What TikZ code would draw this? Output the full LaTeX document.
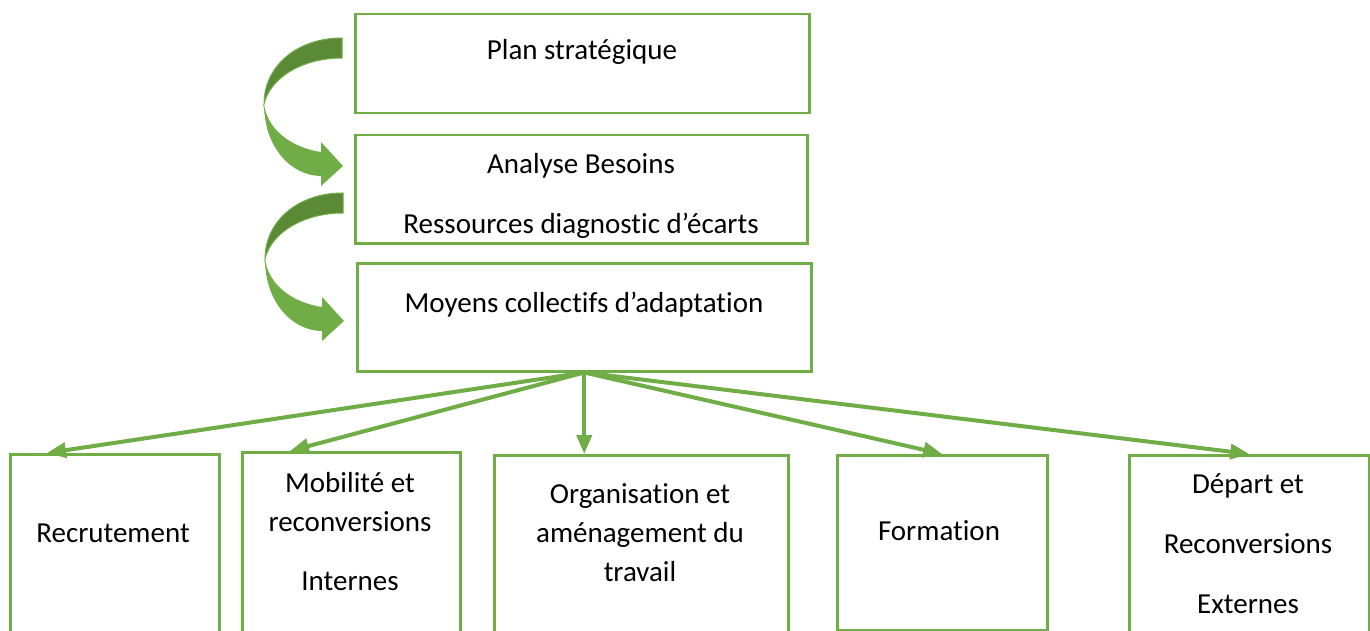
\documentclass[tikz,border=0pt]{standalone}
\usepackage{fontspec}
\setmainfont{Carlito}[Ligatures=NoCommon,Contextuals=NoAlternate]
\usetikzlibrary{arrows.meta}
\definecolor{leaf}{HTML}{70AD47}
\definecolor{leafdark}{HTML}{5A8A36}
\tikzset{
  box/.style={draw=leaf,line width=2.5pt,fill=white,anchor=north west,inner sep=0pt},
  lbl/.style={font=\fontsize{29}{39}\selectfont,inner sep=0pt,align=center},
  link/.style={draw=leaf,line width=4pt,-{Triangle[length=19pt,width=15pt]}},
}
\def\CurlArrow#1{
  \begin{scope}[shift={#1}]
  \filldraw[fill=leafdark,draw=leaf,line width=1pt] (0,0) .. controls (-45,0) and (-78,28) .. (-78,66)
     .. controls (-72,40) and (-40,20) .. (0,20) -- cycle;
  \fill[leaf] (-78,66) .. controls (-78,110) and (-50,138) .. (-21,138) -- (-21,148) -- (1,128)
     -- (-21,104) -- (-21,114) .. controls (-48,110) and (-74,94) .. (-78,66) -- cycle;
  \end{scope}
}

\begin{document}
\begin{tikzpicture}[x=1pt,y=-1pt]
    \useasboundingbox (0,0) rectangle (1370,631);
    \clip (0,0) rectangle (1370,631);
    \node[box,minimum width=454pt,minimum height=99pt] (plan) at (354,13) {};
    \node[box,minimum width=452pt,minimum height=108pt] (besoins) at (354,134) {};
    \node[box,minimum width=454pt,minimum height=108pt] (moyens) at (356,262) {};
    \node[box,minimum width=209pt,minimum height=190pt] (recrut) at (9,453) {};
    \node[box,minimum width=218pt,minimum height=190pt] (mobil) at (241,451) {};
    \node[box,minimum width=294pt,minimum height=190pt] (organis) at (493,454) {};
    \node[box,minimum width=210pt,minimum height=175pt] (format) at (836,454) {};
    \node[box,minimum width=240pt,minimum height=190pt] (depart) at (1128,454) {};
    \CurlArrow{(342,38)}
    \CurlArrow{(343,193)}
    \node[lbl] (plantxt) at (582,52) {Plan stratégique};
    \node[lbl,font=\fontsize{29}{60}\selectfont] (besoinstxt) at (581,196) {Analyse Besoins\\Ressources diagnostic d’écarts};
    \node[lbl] (moyenstxt) at (584,305) {Moyens collectifs d’adaptation};
    \node[lbl] (recruttxt) at (113,533) {Recrutement};
    \node[lbl] (mobiltxt) at (350,502) {Mobilité et\\reconversions};
    \node[lbl] (internestxt) at (350,581) {Internes};
    \node[lbl] (organistxt) at (640,533) {Organisation et\\aménagement du\\travail};
    \node[lbl] (formtxt) at (939,531) {Formation};
    \node[lbl,font=\fontsize{29}{60}\selectfont] (departtxt) at (1248,544) {Départ et\\Reconversions\\Externes};
    \draw[link] (moyens.south) -- ([xshift=38pt]recrut.north west);
    \draw[link] (moyens.south) -- ([xshift=49pt]mobil.north west);
    \draw[link] (moyens.south) -- (moyens.south |- organis.north);
    \draw[link] (moyens.south) -- (format.north);
    \draw[link] (moyens.south) -- (depart.north);
\end{tikzpicture}
\end{document}
